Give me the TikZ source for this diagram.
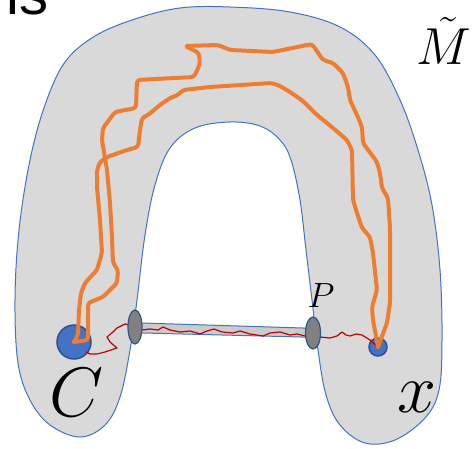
\RequirePackage{fix-cm}
\documentclass[tikz,border=0pt]{standalone}
\usepackage{fontspec}
\newfontfamily\slidefont{Liberation Sans}
\usetikzlibrary{positioning}
\definecolor{surf}{HTML}{D9D9D9}
\definecolor{edgeblue}{HTML}{4472C4}
\definecolor{darkblue}{HTML}{2F528F}
\definecolor{trailorange}{HTML}{ED7D31}
\definecolor{wire}{HTML}{C00000}
\definecolor{plugray}{HTML}{808080}
\definecolor{tubegray}{HTML}{CBCBCB}

\begin{document}
\begin{tikzpicture}[x=1bp, y=-1bp,
    trail/.style={draw=trailorange, line width=4bp, line join=round, line cap=round, rounded corners=3bp},
    spot/.style={circle, fill=edgeblue, draw=darkblue, line width=1.5bp, inner sep=0pt},
    plug/.style={fill=plugray, draw=darkblue, line width=1.2bp},
    lbl/.style={anchor=base, inner sep=0pt}]
    \useasboundingbox (0,0) rectangle (472,449);
    % Slide text, cut off at the top
    \node[anchor=base west, inner sep=0pt, font=\slidefont\fontsize{58bp}{58bp}\selectfont] (frag) at (6,15) {is};
    % Surface
    \filldraw[fill=surf, draw=edgeblue, line width=1bp] plot[smooth cycle, tension=0.6] coordinates {
        (291,160) (300,200) (306,250) (312,300) (318,350) (326,395) (340,425) (365,443)
        (395,440) (425,418) (439,390) (442,340) (440,270) (432,205) (418,150) (400,100)
        (375,55) (340,27) (290,12) (230,7) (180,8) (135,19) (95,36) (65,62) (45,105)
        (30,160) (19,230) (15,300) (18,363) (30,400) (50,425) (80,437) (105,425)
        (120,397) (130,350) (137,300) (145,235) (155,185) (170,148) (195,128) (230,122)
        (260,126) (280,140)};
    % Tube
    \filldraw[fill=tubegray, draw=edgeblue, line width=1bp] (135,322.8) -- (313,328.3) -- (313,337.3) -- (135,332.8) -- cycle;
    % Points
    \node[spot, minimum size=34bp] (c0) at (74,342) {};
    \node[spot, minimum size=18bp] (x0) at (378,347) {};
    \coordinate (cedge) at (86,352);
    % Red path through the tube
    \draw[wire, line width=1.2bp, line join=round] (cedge) -- (90,354) -- (97,354) -- (105,352) -- (117,348)
        -- (110,342) -- (107,337) -- (113,332) -- (117,328) -- (125,324) -- (135,326) -- (142,330)
        -- (150,329) -- (158,330) -- (163,327) -- (170,330) -- (180,332) -- (190,331) -- (200,334)
        -- (207,331) -- (214,329) -- (222,332) -- (233,333) -- (240,331) -- (250,334) -- (263,336)
        -- (270,333) -- (280,332) -- (290,335) -- (297,334) -- (305,336) -- (320,337) -- (330,338)
        -- (337,336) -- (342,332) -- (346,335) -- (350,336) -- (356,334) -- (362,335) -- (370,340)
        -- (x0.center);
    % Ends of the tube
    \filldraw[plug] (135,327) ellipse [x radius=7, y radius=17];
    \filldraw[plug] (313,333) ellipse [x radius=7.5, y radius=16];
    % Outer loop
    \draw[trail] (c0.center) -- (88,340) -- (88,303) -- (103,297) -- (117,283) -- (118,270) -- (113,263)
        -- (112,237) -- (110,203) -- (107,170) -- (105,158) -- (102,140) -- (103,128) -- (115,112)
        -- (136,108) -- (137,80) -- (194,77) -- (200,64) -- (199,53) -- (185,46) -- (218,45)
        -- (230,50) -- (273,52) -- (312,44) -- (323,60) -- (333,63) -- (343,73) -- (348,87)
        -- (350,100) -- (357,115) -- (362,127) -- (363,143) -- (377,162) -- (380,173) -- (382,188)
        -- (388,198) -- (390,228) -- (390,303) -- (387,323) -- (x0.center);
    % Inner loop
    \draw[trail] (c0.center) -- (78,335) -- (79,310) -- (81,293) -- (85,283) -- (97,270) -- (102,253)
        -- (100,220) -- (97,187) -- (97,170) -- (100,162) -- (107,157) -- (127,150) -- (138,147)
        -- (140,130) -- (142,118) -- (148,115) -- (160,105) -- (170,98) -- (178,95) -- (183,90)
        -- (210,87) -- (272,83) -- (280,86) -- (290,92) -- (303,101) -- (317,115) -- (333,128)
        -- (347,140) -- (352,150) -- (353,200) -- (357,213) -- (362,228) -- (370,237) -- (373,253)
        -- (377,290) -- (372,307) -- (373,320) -- (x0.center);
    % Labels
    \node[lbl, font=\fontsize{70bp}{70bp}\selectfont] (lc) at (77,416) {$C$};
    \node[lbl, font=\fontsize{70bp}{70bp}\selectfont] (lx) at (417,412) {$x$};
    \node[lbl, font=\fontsize{35bp}{35bp}\selectfont] (lp) at (321,307) {$P$};
    \node[lbl, font=\fontsize{52bp}{52bp}\selectfont] (lm) at (444,65) {$\tilde M$};
\end{tikzpicture}
\end{document}
